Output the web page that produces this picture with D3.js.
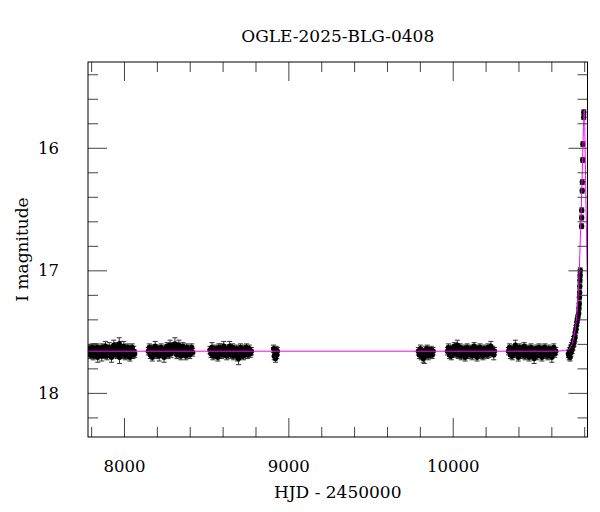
<!DOCTYPE html>
<html><head><meta charset="utf-8">
<script src="https://cdn.jsdelivr.net/npm/d3@7"></script>
<style>body{margin:0;background:#fff}svg{display:block;font-family:"DejaVu Serif",serif}</style>
</head><body><svg id="c" width="600" height="512"></svg>
<script>
// ---- data: [HJD-2450000, I mag, error] ----
const season1 = [[7784,17.67,.03],[7789,17.64,.03],[7793,17.69,.03],[7798,17.65,.04],[7803,17.68,.03],[7808,17.63,.03],[7812,17.70,.03],[7817,17.66,.03],[7822,17.64,.04],[7826,17.69,.03],[7831,17.67,.03],[7836,17.63,.03],[7840,17.71,.04],[7845,17.66,.03],[7850,17.64,.03],[7854,17.68,.03],[7859,17.65,.03],[7864,17.70,.04],[7868,17.63,.03],[7873,17.67,.03],[7878,17.65,.03],[7882,17.69,.03],[7887,17.62,.04],[7892,17.66,.03],[7896,17.70,.03],[7901,17.64,.03],[7906,17.67,.03],[7910,17.63,.04],[7915,17.68,.03],[7920,17.65,.03],[7924,17.71,.04],[7929,17.64,.03],[7934,17.66,.03],[7938,17.61,.04],[7943,17.68,.03],[7948,17.65,.03],[7952,17.63,.04],[7957,17.69,.03],[7962,17.66,.03],[7966,17.63,.03],[7971,17.60,.05],[7973,17.71,.05],[7976,17.65,.03],[7980,17.62,.04],[7985,17.67,.03],[7990,17.64,.03],[7994,17.69,.03],[7999,17.62,.04],[8004,17.66,.03],[8008,17.70,.03],[8013,17.64,.03],[8018,17.67,.04],[8022,17.63,.03],[8027,17.69,.03],[8032,17.65,.03],[8036,17.71,.03],[8041,17.64,.03],[8046,17.67,.03],[8050,17.63,.03],[8055,17.69,.03],[8060,17.66,.04],[8065,17.68,.03]];
const season2 = [[8148,17.66,.03],[8154,17.63,.03],[8160,17.69,.03],[8166,17.65,.04],[8172,17.71,.03],[8178,17.64,.03],[8184,17.67,.03],[8190,17.62,.04],[8196,17.69,.03],[8202,17.66,.03],[8208,17.64,.03],[8214,17.70,.04],[8220,17.65,.03],[8226,17.63,.03],[8232,17.68,.03],[8238,17.66,.03],[8244,17.71,.04],[8250,17.64,.03],[8256,17.67,.03],[8262,17.62,.03],[8268,17.69,.03],[8274,17.65,.03],[8280,17.61,.04],[8286,17.68,.03],[8292,17.64,.03],[8298,17.62,.03],[8304,17.66,.03],[8310,17.60,.05],[8316,17.63,.04],[8322,17.69,.03],[8328,17.65,.03],[8334,17.61,.04],[8340,17.67,.03],[8346,17.70,.03],[8352,17.64,.03],[8358,17.62,.03],[8364,17.68,.03],[8370,17.65,.03],[8376,17.70,.03],[8382,17.63,.03],[8388,17.67,.03],[8394,17.64,.03],[8400,17.69,.03],[8406,17.66,.03],[8412,17.63,.03],[8418,17.67,.03]];
const season3 = [[8523,17.65,.03],[8529,17.68,.03],[8535,17.63,.04],[8541,17.70,.03],[8547,17.66,.03],[8553,17.64,.03],[8559,17.69,.03],[8565,17.65,.03],[8571,17.71,.03],[8577,17.63,.03],[8583,17.67,.03],[8589,17.64,.04],[8595,17.69,.03],[8601,17.66,.03],[8607,17.62,.04],[8613,17.68,.03],[8619,17.65,.03],[8625,17.70,.03],[8631,17.64,.03],[8637,17.67,.03],[8643,17.62,.04],[8649,17.69,.03],[8655,17.66,.03],[8661,17.63,.03],[8667,17.70,.03],[8673,17.65,.03],[8679,17.68,.03],[8685,17.64,.03],[8691,17.71,.03],[8697,17.72,.05],[8703,17.66,.03],[8709,17.63,.03],[8715,17.69,.03],[8721,17.65,.03],[8727,17.70,.03],[8733,17.64,.03],[8739,17.67,.03],[8745,17.63,.03],[8751,17.69,.03],[8757,17.66,.03],[8763,17.64,.03],[8769,17.68,.03],[8775,17.66,.03]];
const season4 = [[8910,17.64,.03],[8914,17.70,.03],[8918,17.67,.03],[8922,17.72,.03],[8926,17.65,.03],[8930,17.69,.03],[8933,17.66,.03]];
const season5 = [[9791,17.66,.03],[9797,17.69,.03],[9803,17.64,.03],[9809,17.70,.03],[9815,17.67,.03],[9821,17.72,.03],[9827,17.71,.05],[9833,17.65,.03],[9839,17.68,.03],[9845,17.64,.03],[9851,17.70,.03],[9857,17.66,.03],[9863,17.68,.03],[9869,17.65,.03],[9875,17.69,.03],[9881,17.66,.03]];
const season6 = [[9968,17.66,.03],[9974,17.63,.03],[9980,17.69,.03],[9986,17.65,.03],[9992,17.70,.03],[9998,17.64,.03],[10004,17.67,.03],[10010,17.62,.03],[10016,17.68,.03],[10022,17.65,.03],[10028,17.61,.04],[10034,17.69,.03],[10040,17.66,.03],[10046,17.63,.03],[10052,17.70,.03],[10058,17.65,.03],[10064,17.68,.03],[10070,17.64,.03],[10076,17.71,.03],[10082,17.66,.03],[10088,17.63,.03],[10094,17.69,.03],[10100,17.65,.03],[10106,17.67,.03],[10112,17.64,.03],[10118,17.70,.03],[10124,17.66,.03],[10130,17.62,.03],[10136,17.68,.03],[10142,17.65,.03],[10148,17.71,.03],[10154,17.64,.03],[10160,17.67,.03],[10166,17.63,.03],[10172,17.69,.03],[10178,17.66,.03],[10184,17.70,.03],[10190,17.64,.03],[10196,17.67,.03],[10202,17.65,.03],[10208,17.69,.03],[10214,17.63,.03],[10220,17.68,.03],[10226,17.66,.03],[10232,17.62,.04],[10238,17.67,.03],[10244,17.65,.03],[10250,17.69,.04],[10254,17.66,.03]];
const season7 = [[10339,17.66,.03],[10345,17.63,.03],[10351,17.69,.03],[10357,17.65,.03],[10363,17.70,.03],[10369,17.64,.03],[10375,17.67,.03],[10381,17.61,.04],[10387,17.68,.03],[10393,17.65,.03],[10399,17.71,.03],[10405,17.63,.03],[10411,17.67,.03],[10417,17.64,.03],[10423,17.69,.03],[10429,17.66,.03],[10435,17.62,.03],[10441,17.70,.03],[10447,17.65,.03],[10453,17.68,.03],[10459,17.64,.03],[10465,17.71,.03],[10471,17.66,.03],[10477,17.63,.03],[10483,17.69,.03],[10489,17.65,.03],[10495,17.72,.04],[10501,17.67,.03],[10507,17.64,.03],[10513,17.70,.03],[10519,17.66,.03],[10525,17.63,.03],[10531,17.68,.03],[10537,17.65,.03],[10543,17.71,.03],[10549,17.64,.03],[10555,17.67,.03],[10561,17.63,.03],[10567,17.69,.03],[10573,17.66,.03],[10579,17.70,.03],[10585,17.64,.03],[10591,17.67,.03],[10597,17.65,.03],[10603,17.71,.04],[10609,17.66,.03],[10615,17.63,.03],[10621,17.68,.03],[10627,17.66,.03]];
const eventPts = [[10704,17.68,.03],[10708,17.70,.03],[10711,17.66,.03],[10714,17.71,.03],[10717,17.64,.03],[10720,17.67,.03],[10723,17.62,.03],[10726,17.65,.03],[10729,17.60,.03],[10732,17.62,.03],[10735,17.57,.03],[10738,17.59,.03],[10741,17.54,.03],[10744,17.55,.03],[10747,17.50,.03],[10750,17.48,.03],[10753,17.45,.03],[10756,17.42,.03],[10759,17.40,.03],[10762,17.38,.02],[10766,17.35,.02],[10768,17.31,.02],[10770,17.27,.02],[10771,17.22,.02],[10772,17.18,.02],[10773,17.13,.02],[10774,17.08,.02],[10775,17.04,.02],[10776,17.00,.02],[10784,16.64,.02],[10784.5,16.57,.02],[10785,16.51,.02],[10788,16.35,.02],[10788.5,16.28,.02],[10791,16.10,.02],[10791.5,15.97,.02],[10797,15.75,.02],[10797.5,15.71,.02]];
// model curve
const modelHjd = [7781, 10600, 10680, 10710, 10730, 10745, 10757, 10765, 10770, 10776, 10783, 10790, 10795, 10798, 10800, 10802, 10806, 10810, 10814, 10818, 10824];
const modelMag = [17.66, 17.66, 17.655, 17.64, 17.58, 17.48, 17.33, 17.15, 17.0, 16.75, 16.45, 16.1, 15.85, 15.72, 15.69, 15.73, 16.05, 16.4, 16.7, 17.0, 17.3];
const xMajor = [8000, 9000, 10000];
const yMajor = [16, 17, 18];
const titleText = "OGLE-2025-BLG-0408";
const xLabelText = "HJD - 2450000";
const yLabelText = "I magnitude";

const allPts = [].concat(season1, season2, season3, season4, season5, season6, season7, eventPts);

const L = 88, R = 587.5, T = 62, B = 437;
const x = d3.scaleLinear().domain([7781, 10820]).range([L, R]);
const y = d3.scaleLinear().domain([15.3, 18.36]).range([T, B]);
const svg = d3.select("#c");

svg.append("defs").append("clipPath").attr("id", "clip")
  .append("rect").attr("x", L).attr("y", T).attr("width", R - L).attr("height", B - T);

const xMinor = d3.range(7800, 10821, 200).filter(v => !xMajor.includes(v));
const yMinor = d3.range(15.4, 18.37, 0.2).map(v => +v.toFixed(1)).filter(v => !yMajor.includes(v));

const tickCol = "#444";
function axes(){
  const g = svg.append("g").attr("class", "axes");
  g.append("g").attr("transform", `translate(0,${B})`).call(d3.axisBottom(x).tickValues(xMajor).tickSize(-19).tickFormat(d3.format("d")).tickPadding(23))
  g.append("g").attr("transform", `translate(0,${B})`).call(d3.axisBottom(x).tickValues(xMinor).tickSize(-10).tickFormat(""));
  g.append("g").attr("transform", `translate(0,${T})`).call(d3.axisTop(x).tickValues(xMajor).tickSize(-19).tickFormat(""));
  g.append("g").attr("transform", `translate(0,${T})`).call(d3.axisTop(x).tickValues(xMinor).tickSize(-10).tickFormat(""));
  g.append("g").attr("transform", `translate(${L},0)`).call(d3.axisLeft(y).tickValues(yMajor).tickSize(-19).tickFormat(d3.format("d")).tickPadding(29));
  g.append("g").attr("transform", `translate(${L},0)`).call(d3.axisLeft(y).tickValues(yMinor).tickSize(-10).tickFormat(""));
  g.append("g").attr("transform", `translate(${R},0)`).call(d3.axisRight(y).tickValues(yMajor).tickSize(-19).tickFormat(""));
  g.append("g").attr("transform", `translate(${R},0)`).call(d3.axisRight(y).tickValues(yMinor).tickSize(-10).tickFormat(""));
  g.selectAll(".domain").remove();
  g.selectAll(".tick line").attr("stroke", tickCol).attr("stroke-width", 1);
  g.selectAll(".tick text").attr("font-family", "DejaVu Serif").attr("font-size", 16.5).attr("fill", "#000");
}

const dg = svg.append("g").attr("clip-path", "url(#clip)");
const eb = dg.append("g").attr("stroke", "#333").attr("stroke-width", 1);
eb.selectAll("line.v").data(allPts).join("line").attr("class", "v")
  .attr("x1", d => x(d[0])).attr("x2", d => x(d[0]))
  .attr("y1", d => y(d[1] - d[2])).attr("y2", d => y(d[1] + d[2]));
eb.selectAll("line.t").data(allPts).join("line").attr("class", "t")
  .attr("x1", d => x(d[0]) - 2.5).attr("x2", d => x(d[0]) + 2.5)
  .attr("y1", d => y(d[1] - d[2])).attr("y2", d => y(d[1] - d[2]));
eb.selectAll("line.b").data(allPts).join("line").attr("class", "b")
  .attr("x1", d => x(d[0]) - 2.5).attr("x2", d => x(d[0]) + 2.5)
  .attr("y1", d => y(d[1] + d[2])).attr("y2", d => y(d[1] + d[2]));
dg.append("g").selectAll("circle").data(allPts).join("circle")
  .attr("cx", d => x(d[0])).attr("cy", d => y(d[1])).attr("r", 2.7).attr("fill", "#000");

const model = modelHjd.map((h, i) => [h, modelMag[i]]);
dg.append("path").datum(model)
  .attr("d", d3.line().x(d => x(d[0])).y(d => y(d[1])).curve(d3.curveMonotoneX))
  .attr("fill", "none").attr("stroke", "#ff00ff").attr("stroke-width", 1);

axes();
svg.append("rect").attr("x", L).attr("y", T).attr("width", R - L).attr("height", B - T)
  .attr("fill", "none").attr("stroke", "#000").attr("stroke-width", 1);

svg.append("text").attr("x", (L + R) / 2).attr("y", 42).attr("text-anchor", "middle")
  .attr("font-size", 17).text(titleText);
svg.append("text").attr("x", (L + R) / 2).attr("y", 498).attr("text-anchor", "middle")
  .attr("font-size", 17).text(xLabelText);
svg.append("text").attr("transform", `translate(28,${(T + B) / 2}) rotate(-90)`).attr("text-anchor", "middle")
  .attr("font-size", 17).text(yLabelText);
</script></body></html>
